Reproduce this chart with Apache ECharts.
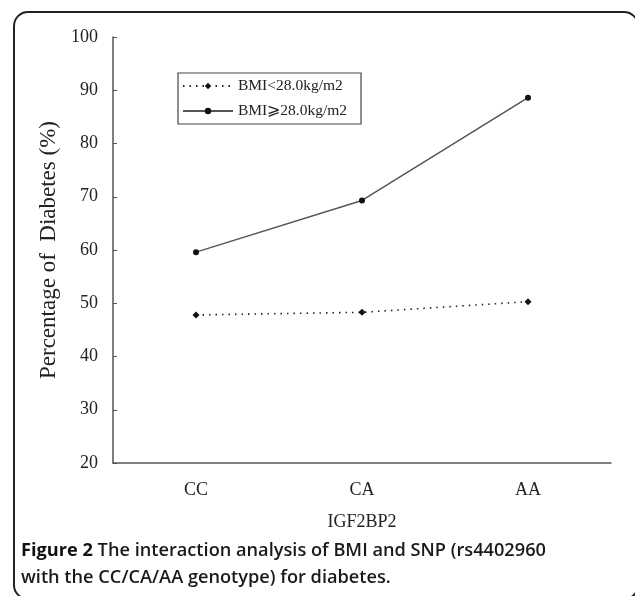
<!DOCTYPE html>
<html>
<head>
<meta charset="utf-8">
<script src="https://cdn.jsdelivr.net/npm/echarts@6/dist/echarts.min.js"></script>
<style>
  html, body { margin: 0; padding: 0; background: #fff; }
  #chart { width: 635px; height: 596px; }
</style>
</head>
<body>
<div id="chart"></div>
<script>
// genotype categories of IGF2BP2
const genotypes = ['CC', 'CA', 'AA'];
// percentage of diabetes per BMI group
const bmiLow = [47.8, 48.3, 50.3];
const bmiHigh = [59.6, 69.3, 88.6];
const seriesNames = ['BMI<28.0kg/m2', 'BMI\u2A7E28.0kg/m2'];

const serif = '"Liberation Serif", "DejaVu Serif", serif';
const chart = echarts.init(document.getElementById('chart'));

chart.setOption({
  animation: false,
  backgroundColor: '#fff',
  grid: { left: 113, right: 24, top: 37, bottom: 133 },
  legend: {
    orient: 'vertical',
    left: 178,
    top: 73,
    padding: [5, 14, 5, 4],
    itemGap: 9,
    itemWidth: 50,
    itemHeight: 8,
    borderColor: '#444',
    borderWidth: 1.2,
    textStyle: { fontFamily: serif, fontSize: 15.5, color: '#222' },
    data: seriesNames
  },
  xAxis: {
    type: 'category',
    data: genotypes,
    name: 'IGF2BP2',
    nameLocation: 'middle',
    nameGap: 50,
    nameTextStyle: { fontFamily: serif, fontSize: 18, color: '#222' },
    axisLine: { lineStyle: { color: '#555', width: 1.5 } },
    axisTick: { inside: true, length: 4, lineStyle: { color: '#555' } },
    axisLabel: { fontFamily: serif, fontSize: 18, color: '#222', margin: 18 }
  },
  yAxis: {
    type: 'value',
    min: 20,
    max: 100,
    interval: 10,
    name: 'Percentage of  Diabetes (%)',
    nameLocation: 'middle',
    nameGap: 52,
    nameTextStyle: { fontFamily: serif, fontSize: 23, color: '#222' },
    splitLine: { show: false },
    axisLine: { show: true, lineStyle: { color: '#555', width: 1.5 } },
    axisTick: { show: true, inside: true, length: 4, lineStyle: { color: '#555' } },
    axisLabel: { fontFamily: serif, fontSize: 18, color: '#222', margin: 15 }
  },
  series: [
    {
      name: seriesNames[0],
      type: 'line',
      data: bmiLow,
      symbol: 'diamond',
      symbolSize: 7,
      itemStyle: { color: '#111' },
      lineStyle: { color: '#222', width: 1.6, type: [1.5, 5] }
    },
    {
      name: seriesNames[1],
      type: 'line',
      data: bmiHigh,
      symbol: 'circle',
      symbolSize: 6,
      itemStyle: { color: '#111' },
      lineStyle: { color: '#555', width: 1.5 }
    }
  ],
  graphic: [
    {
      type: 'rect',
      shape: { x: 14, y: 12, width: 624, height: 587, r: 14 },
      style: { fill: 'none', stroke: '#222', lineWidth: 2 },
      silent: true
    },
    {
      type: 'text',
      left: 21,
      top: 537,
      style: {
        text: '{b|Figure 2} The interaction analysis of BMI and SNP (rs4402960\nwith the CC/CA/AA genotype) for diabetes.',
        fontFamily: '"Open Sans", sans-serif',
        fontSize: 18.2,
        fontWeight: 600,
        lineHeight: 27,
        fill: '#1a1a1a',
        rich: {
          b: { fontFamily: '"Open Sans", sans-serif', fontSize: 18.2, fontWeight: 'bold', fill: '#111' }
        }
      }
    }
  ]
});
</script>
</body>
</html>
